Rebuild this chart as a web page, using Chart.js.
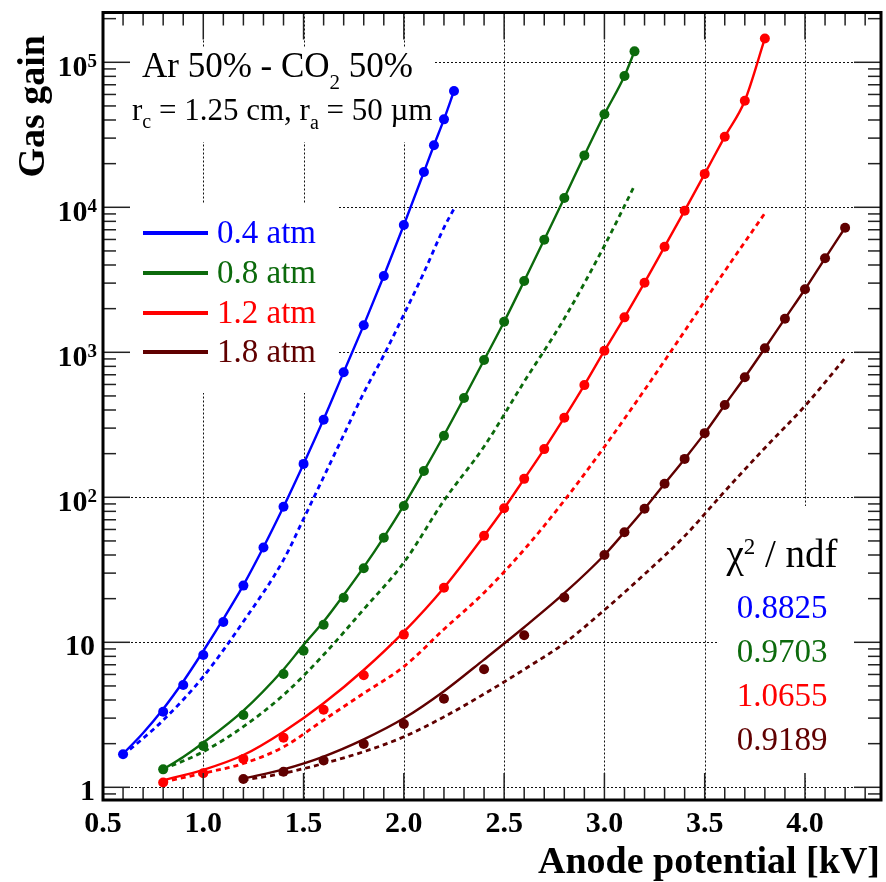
<!DOCTYPE html>
<html>
<head>
<meta charset="utf-8">
<script src="https://cdn.jsdelivr.net/npm/chart.js@4.4.0/dist/chart.umd.min.js"></script>
<style>
html,body{margin:0;padding:0;background:#fff;}
#wrap{width:886px;height:882px;position:relative;}
</style>
</head>
<body>
<div id="wrap"><canvas id="c" width="886" height="882"></canvas></div>
<script>
// ---------------- DATA ----------------
const pressureLabels = ['0.4 atm', '0.8 atm', '1.2 atm', '1.8 atm'];
const seriesColors = ['#0000ff', '#0c6a0c', '#ff0000', '#600000'];
const chi2Labels = ['0.8825', '0.9703', '1.0655', '0.9189'];

// measured points (anode potential kV, gas gain)
const measX04 = [0.6,0.8,0.9,1.0,1.1,1.2,1.3,1.4,1.5,1.6,1.7,1.8,1.9,2.0,2.1,2.15,2.2,2.25];
const measY04 = [1.69,3.32,5.07,8.17,13.8,24.6,45,86,170,343,728,1535,3360,7550,17500,26800,40400,63400];
const measX08 = [0.8,1.0,1.2,1.4,1.5,1.6,1.7,1.8,1.9,2.0,2.1,2.2,2.3,2.4,2.5,2.6,2.7,2.8,2.9,3.0,3.1,3.15];
const measY08 = [1.33,1.93,3.15,6.05,8.75,13.2,20.3,32.4,52.6,87,152,266,484,885,1626,3100,5980,11600,22800,43800,80500,119000];
const measX12 = [0.8,1.0,1.2,1.4,1.6,1.8,2.0,2.2,2.4,2.5,2.6,2.7,2.8,2.9,3.0,3.1,3.2,3.3,3.4,3.5,3.6,3.7,3.8];
const measY12 = [1.08,1.25,1.57,2.2,3.43,5.92,11.3,23.8,54.3,84,134,215,354,594,1026,1742,3020,5350,9480,17000,30700,54300,146000];
const measX18 = [1.2,1.4,1.6,1.8,2.0,2.2,2.4,2.6,2.8,3.0,3.1,3.2,3.3,3.4,3.5,3.6,3.7,3.8,3.9,4.0,4.1,4.2];
const measY18 = [1.14,1.28,1.53,1.99,2.73,4.08,6.51,11.2,20.4,40,57.4,83.4,124,184,277,433,673,1066,1706,2720,4450,7230];

// fit curves (solid)
const fitX04 = [0.6,0.7,0.8,0.9,1.0,1.1,1.2,1.3,1.4,1.5,1.6,1.7,1.8,1.9,2.0,2.1,2.15,2.2,2.25];
const fitY04 = [1.7,2.37,3.47,5.37,8.71,14.5,24.8,45.2,86,170,345,730,1540,3360,7550,17500,26800,40400,63400];
const fitX08 = [0.8,0.9,1.0,1.2,1.4,1.5,1.6,1.7,1.8,1.9,2.0,2.1,2.2,2.3,2.4,2.5,2.6,2.7,2.8,2.9,3.0,3.1,3.15];
const fitY08 = [1.33,1.62,2.03,3.38,6.5,9.6,13.9,21.2,33,53,88,152,268,484,885,1626,3100,5980,11600,22800,43800,80500,119000];
const fitX12 = [0.8,1.0,1.2,1.4,1.6,1.8,2.0,2.2,2.4,2.5,2.6,2.7,2.8,2.9,3.0,3.1,3.2,3.3,3.4,3.5,3.6,3.7,3.8];
const fitY12 = [1.12,1.32,1.67,2.42,3.8,6.44,11.8,23.8,54.3,84,134,215,354,594,1026,1742,3020,5350,9480,17000,30700,54300,146000];
const fitX18 = [1.2,1.4,1.6,1.8,2.0,2.2,2.4,2.6,2.8,3.0,3.1,3.2,3.3,3.4,3.5,3.6,3.7,3.8,3.9,4.0,4.1,4.2];
const fitY18 = [1.15,1.33,1.63,2.14,2.99,4.6,7.6,12.7,21.8,40,57.4,83.4,124,184,277,433,673,1066,1706,2720,4450,7230];

// theoretical curves (dashed)
const thX04 = [0.6,0.8,1.0,1.2,1.4,1.5,1.6,1.7,1.8,1.9,2.0,2.1,2.2,2.25];
const thY04 = [1.66,2.9,5.8,13.9,37,71,138,269,525,955,1820,3550,7240,9770];
const thX08 = [0.8,1.0,1.2,1.4,1.6,1.8,2.0,2.2,2.4,2.6,2.8,3.0,3.15];
const thY08 = [1.33,1.76,2.62,4.33,8.2,16.9,35.5,95,224,627,1710,5430,14100];
const thX12 = [0.8,1.0,1.2,1.4,1.6,1.8,2.0,2.2,2.4,2.6,2.8,3.0,3.2,3.4,3.6,3.8];
const thY12 = [1.09,1.25,1.46,1.9,2.91,4.45,6.8,12.3,22,43.6,95,223,550,1400,3630,9100];
const thX18 = [1.2,1.4,1.6,1.8,2.0,2.2,2.4,2.6,2.8,3.0,3.2,3.4,3.6,3.8,4.0,4.2];
const thY18 = [1.12,1.25,1.46,1.76,2.23,3.06,4.4,6.5,9.85,16.7,29.5,54,110,219,427,912];

// axis ticks
const xTickValues = [0.5,1.0,1.5,2.0,2.5,3.0,3.5,4.0];
const xTickLabels = ['0.5','1.0','1.5','2.0','2.5','3.0','3.5','4.0'];
const xGridValues = [1.0,1.5,2.0,2.5,3.0,3.5,4.0];
const yTickValues = [1,10,100,1000,10000,100000];
const yTickBase = ['1','10','10','10','10','10'];
const yTickExp  = ['','','2','3','4','5'];

const xTitle = 'Anode potential [kV]';
const yTitle = 'Gas gain';

// ---------------- BUILD ----------------
function pts(xs, ys){ return xs.map((v,i)=>({x:v, y:ys[i]})); }
const meas = [[measX04,measY04],[measX08,measY08],[measX12,measY12],[measX18,measY18]];
const fits = [[fitX04,fitY04],[fitX08,fitY08],[fitX12,fitY12],[fitX18,fitY18]];
const ths  = [[thX04,thY04],[thX08,thY08],[thX12,thY12],[thX18,thY18]];

const datasets = [];
meas.forEach((m,i)=>datasets.push({
  label: pressureLabels[i]+' data', data: pts(m[0],m[1]), showLine:false,
  pointRadius:5, pointHoverRadius:5, pointBorderWidth:0,
  pointBackgroundColor: seriesColors[i], borderColor: seriesColors[i], backgroundColor: seriesColors[i]
}));
fits.forEach((f,i)=>datasets.push({
  label: pressureLabels[i]+' fit', data: pts(f[0],f[1]), showLine:true,
  pointRadius:0, borderWidth:2.4, borderColor: seriesColors[i], fill:false,
  cubicInterpolationMode:'monotone'
}));
ths.forEach((t,i)=>datasets.push({
  label: pressureLabels[i]+' theory', data: pts(t[0],t[1]), showLine:true,
  pointRadius:0, borderWidth:2.8, borderColor: seriesColors[i], fill:false,
  borderDash:[5,4], cubicInterpolationMode:'monotone'
}));

const SERIF = '"Liberation Serif", "Times New Roman", serif';

function drawRuns(ctx, runs, x, y, color, align){
  let w = 0;
  runs.forEach(r=>{ ctx.font = r.font; r.w = ctx.measureText(r.t).width; w += r.w; });
  let cx = align==='center' ? x - w/2 : (align==='right' ? x - w : x);
  ctx.textAlign = 'left'; ctx.textBaseline = 'alphabetic';
  runs.forEach(r=>{ ctx.font = r.font; ctx.fillStyle = r.color || color; ctx.fillText(r.t, cx, y + (r.dy||0)); cx += r.w; });
}

const rootPlugin = {
  id: 'rootStyle',
  beforeDatasetsDraw(chart){
    const {ctx, chartArea:a, scales:{x, y}} = chart;
    ctx.save();
    ctx.beginPath(); ctx.rect(a.left, a.top, a.right-a.left, a.bottom-a.top); ctx.clip();
    // dotted grid
    ctx.strokeStyle = '#111'; ctx.lineWidth = 1; ctx.setLineDash([2,2]);
    xGridValues.forEach(v=>{
      const px = Math.round(x.getPixelForValue(v)) + 0.5;
      ctx.beginPath(); ctx.moveTo(px, a.top); ctx.lineTo(px, a.bottom); ctx.stroke();
    });
    yTickValues.forEach(v=>{
      const py = Math.round(y.getPixelForValue(v)) + 0.5;
      ctx.beginPath(); ctx.moveTo(a.left, py); ctx.lineTo(a.right, py); ctx.stroke();
    });
    ctx.setLineDash([]);
    // white text panels (cover grid)
    ctx.fillStyle = '#fff';
    ctx.fillRect(a.left, 48, 433 - a.left, 94);
    ctx.fillRect(a.left, 203, 338 - a.left, 190);
    ctx.fillRect(718, 506, a.right - 718, 272);
    ctx.restore();
  },
  afterDraw(chart){
    const {ctx, chartArea:a, scales:{x, y}} = chart;
    ctx.save();
    // ticks
    ctx.strokeStyle = '#222'; ctx.lineWidth = 1.5;
    const tick = (x1,y1,x2,y2)=>{ ctx.beginPath(); ctx.moveTo(x1,y1); ctx.lineTo(x2,y2); ctx.stroke(); };
    for (let k = 5; k <= 43; k++){
      const v = k/10;
      const px = x.getPixelForValue(v);
      const L = (k % 5 === 0) ? 27 : 13;
      tick(px, a.bottom, px, a.bottom - L);
      tick(px, a.top, px, a.top + L);
    }
    for (let d = -1; d <= 5; d++){
      for (let m = 1; m <= 9; m++){
        const v = m * Math.pow(10, d);
        if (v < y.min || v > y.max) continue;
        const py = y.getPixelForValue(v);
        const L = (m === 1) ? 27 : 13;
        tick(a.left, py, a.left + L, py);
        tick(a.right, py, a.right - L, py);
      }
    }
    // frame
    ctx.strokeStyle = '#000'; ctx.lineWidth = 3;
    ctx.strokeRect(a.left, a.top, a.right - a.left, a.bottom - a.top);

    // x tick labels
    ctx.fillStyle = '#000';
    xTickValues.forEach((v,i)=>{
      drawRuns(ctx, [{t:xTickLabels[i], font:'bold 30px '+SERIF}], x.getPixelForValue(v), 832, '#000', 'center');
    });
    // y tick labels
    yTickValues.forEach((v,i)=>{
      const py = y.getPixelForValue(v);
      if (yTickExp[i]){
        drawRuns(ctx, [{t:yTickBase[i], font:'bold 30px '+SERIF},
                       {t:yTickExp[i], font:'bold 19px '+SERIF, dy:-9}], 97, py + 14, '#000', 'right');
      } else {
        drawRuns(ctx, [{t:yTickBase[i], font:'bold 30px '+SERIF}], 95, py + 13, '#000', 'right');
      }
    });
    // axis titles
    drawRuns(ctx, [{t:xTitle, font:'bold 38px '+SERIF}], 880, 873, '#000', 'right');
    ctx.save();
    ctx.translate(44, 35); ctx.rotate(-Math.PI/2);
    drawRuns(ctx, [{t:yTitle, font:'bold 38px '+SERIF}], 0, 0, '#000', 'right');
    ctx.restore();

    // header texts
    drawRuns(ctx, [{t:'Ar 50% - CO', font:'35px '+SERIF},
                   {t:'2', font:'21px '+SERIF, dy:12},
                   {t:' 50%', font:'35px '+SERIF}], 142, 77, '#000', 'left');
    drawRuns(ctx, [{t:'r', font:'31px '+SERIF},
                   {t:'c', font:'20px '+SERIF, dy:8},
                   {t:' = 1.25 cm, r', font:'31px '+SERIF},
                   {t:'a', font:'20px '+SERIF, dy:9},
                   {t:' = 50 \u00b5m', font:'31px '+SERIF}], 132, 120, '#000', 'left');

    // legend
    const legY = [233, 273, 313, 352];
    pressureLabels.forEach((lab,i)=>{
      ctx.strokeStyle = seriesColors[i]; ctx.lineWidth = 4;
      tick(143, legY[i], 208, legY[i]);
      drawRuns(ctx, [{t:lab, font:'33px '+SERIF}], 217, legY[i] + 10, seriesColors[i], 'left');
    });

    // chi2 / ndf block
    drawRuns(ctx, [{t:'\u03c7', font:'39px '+SERIF},
                   {t:'2', font:'23px '+SERIF, dy:-13},
                   {t:' / ndf', font:'39px '+SERIF}], 782, 567, '#000', 'center');
    const chiY = [618, 662, 706, 750];
    chi2Labels.forEach((c,i)=>{
      drawRuns(ctx, [{t:c, font:'33px '+SERIF}], 782, chiY[i], seriesColors[i], 'center');
    });
    ctx.restore();
  }
};

new Chart(document.getElementById('c').getContext('2d'), {
  type: 'scatter',
  data: { datasets },
  options: {
    responsive: false,
    animation: false,
    devicePixelRatio: 1,
    layout: { padding: { left: 103, top: 12.5, right: 3, bottom: 82 } },
    plugins: { legend: { display: false }, tooltip: { enabled: false } },
    scales: {
      x: { type: 'linear', min: 0.5, max: 4.379, display: false },
      y: { type: 'logarithmic', min: 0.8174, max: 220500, display: false }
    }
  },
  plugins: [rootPlugin]
});
</script>
</body>
</html>
